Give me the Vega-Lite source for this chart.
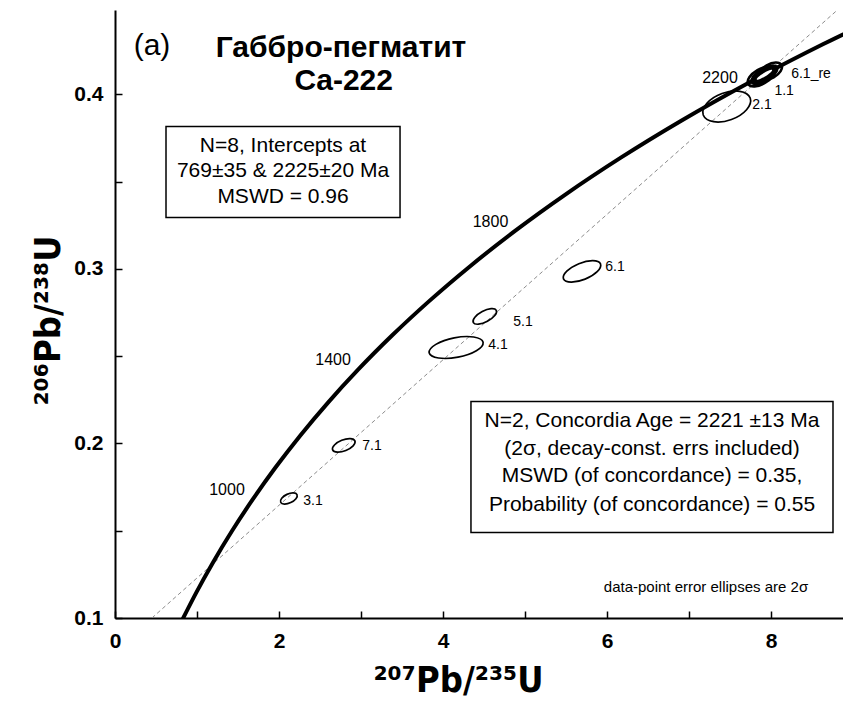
{
  "$schema": "https://vega.github.io/schema/vega-lite/v6.json",
  "width": 728,
  "height": 608,
  "autosize": {"type": "none"},
  "padding": {"left": 115, "top": 10, "right": 0, "bottom": 88},
  "background": "white",
  "config": {
    "view": {"stroke": null},
    "text": {"font": "Liberation Sans", "color": "black"}
  },
  "datasets": {
    "conc": [
      {"t": 600, "x": 0.8056, "y": 0.09754},
      {"t": 700, "x": 0.99251, "y": 0.11470},
      {"t": 800, "x": 1.19873, "y": 0.13213},
      {"t": 900, "x": 1.42629, "y": 0.14983},
      {"t": 1000, "x": 1.67741, "y": 0.16780},
      {"t": 1100, "x": 1.95452, "y": 0.18606},
      {"t": 1200, "x": 2.26030, "y": 0.20460},
      {"t": 1300, "x": 2.59775, "y": 0.22343},
      {"t": 1400, "x": 2.97009, "y": 0.24256},
      {"t": 1500, "x": 3.38099, "y": 0.26199},
      {"t": 1600, "x": 3.83441, "y": 0.28172},
      {"t": 1700, "x": 4.33477, "y": 0.30175},
      {"t": 1800, "x": 4.88689, "y": 0.32210},
      {"t": 1900, "x": 5.49618, "y": 0.34277},
      {"t": 2000, "x": 6.16852, "y": 0.36377},
      {"t": 2100, "x": 6.91045, "y": 0.38509},
      {"t": 2200, "x": 7.72919, "y": 0.40674},
      {"t": 2300, "x": 8.63265, "y": 0.42873},
      {"t": 2400, "x": 9.62952, "y": 0.45107}
    ],
    "disc": [
      {"x": 0.45, "y": 0.1},
      {"x": 8.81, "y": 0.4484}
    ],
    "ell": [
      {"spot": "3.1", "x": 2.12, "y": 0.1685},
      {"spot": "7.1", "x": 2.79, "y": 0.1989},
      {"spot": "4.1", "x": 4.16, "y": 0.2550},
      {"spot": "5.1", "x": 4.51, "y": 0.2728},
      {"spot": "6.1", "x": 5.695, "y": 0.2986},
      {"spot": "2.1", "x": 7.46, "y": 0.3931}
    ],
    "ellthick": [
      {"spot": "1.1", "x": 7.88, "y": 0.4103},
      {"spot": "6.1_re", "x": 7.99, "y": 0.4132}
    ],
    "concage": [
      {"age": 2221, "x": 7.92, "y": 0.4113}
    ],
    "ages": [
      {"label": "1000", "x": 1.366, "y": 0.1731},
      {"label": "1400", "x": 2.659, "y": 0.2476},
      {"label": "1800", "x": 4.579, "y": 0.3272},
      {"label": "2200", "x": 7.378, "y": 0.4097}
    ],
    "spotlabels": [
      {"label": "3.1", "x": 2.415, "y": 0.1673},
      {"label": "7.1", "x": 3.134, "y": 0.1983},
      {"label": "4.1", "x": 4.671, "y": 0.2567},
      {"label": "5.1", "x": 4.976, "y": 0.2699},
      {"label": "6.1", "x": 6.098, "y": 0.3009},
      {"label": "2.1", "x": 7.89, "y": 0.3937},
      {"label": "1.1", "x": 8.16, "y": 0.4017},
      {"label": "6.1_re", "x": 8.488, "y": 0.4120}
    ],
    "boxes": [
      {"x": 0.622, "x2": 3.476, "y": 0.3817, "y2": 0.3295},
      {"x": 4.341, "x2": 8.756, "y": 0.2241, "y2": 0.1490}
    ],
    "boxtext": [
      {"txt": "N=8, Intercepts at", "x": 2.049, "y": 0.3702},
      {"txt": "769±35 & 2225±20 Ma", "x": 2.049, "y": 0.3559},
      {"txt": "MSWD = 0.96", "x": 2.049, "y": 0.3415},
      {"txt": "N=2, Concordia Age = 2221 ±13 Ma", "x": 6.549, "y": 0.2126},
      {"txt": "(2σ, decay-const. errs included)", "x": 6.549, "y": 0.1971},
      {"txt": "MSWD (of concordance) = 0.35,", "x": 6.549, "y": 0.1811},
      {"txt": "Probability (of concordance) = 0.55", "x": 6.549, "y": 0.1650}
    ],
    "title": [
      {"txt": "Габбро-пегматит", "x": 2.756, "y": 0.4269},
      {"txt": "Ca-222", "x": 2.79, "y": 0.4075}
    ],
    "panel": [
      {"txt": "(a)", "x": 0.451, "y": 0.4275}
    ],
    "note": [
      {"txt": "data-point error ellipses are 2σ", "x": 7.207, "y": 0.1175}
    ]
  },
  "encoding": {
    "x": {
      "field": "x",
      "type": "quantitative",
      "scale": {"domain": [0, 8.878], "nice": false, "zero": false},
      "axis": {
        "values": [0, 1, 2, 3, 4, 5, 6, 7, 8],
        "format": "d",
        "labelExpr": "datum.value % 2 === 0 ? datum.label : ''",
        "grid": false,
        "domainColor": "black",
        "domainWidth": 2,
        "tickColor": "black",
        "tickWidth": 1.5,
        "tickSize": -7,
        "labelFont": "Liberation Sans",
        "labelFontSize": 21,
        "labelFontWeight": "bold",
        "labelColor": "black",
        "labelPadding": 19,
        "labelFlush": false,
        "labelOverlap": false,
        "labelBound": false,
        "title": "²⁰⁷Pb/²³⁵U",
        "titleFont": "DejaVu Sans Condensed, DejaVu Sans",
        "titleFontSize": 36,
        "titleFontWeight": "bold",
        "titleColor": "black",
        "titleX": 343,
        "titleY": 62,
        "titleBaseline": "middle",
        "titleAlign": "center"
      }
    },
    "y": {
      "field": "y",
      "type": "quantitative",
      "scale": {"domain": [0.1, 0.4484], "nice": false, "zero": false},
      "axis": {
        "values": [0.1, 0.15, 0.2, 0.25, 0.3, 0.35, 0.4],
        "labelExpr": "abs(datum.value*10 - round(datum.value*10)) < 0.001 ? format(datum.value, '.1f') : ''",
        "grid": false,
        "domainColor": "black",
        "domainWidth": 2,
        "tickColor": "black",
        "tickWidth": 1.5,
        "tickSize": -7,
        "labelFont": "Liberation Sans",
        "labelFontSize": 21,
        "labelFontWeight": "bold",
        "labelColor": "black",
        "labelPadding": 19,
        "labelFlush": false,
        "labelOverlap": false,
        "labelBound": false,
        "title": "²⁰⁶Pb/²³⁸U",
        "titleFont": "DejaVu Sans Condensed, DejaVu Sans",
        "titleFontSize": 36,
        "titleFontWeight": "bold",
        "titleColor": "black",
        "titleAngle": 270,
        "titleX": -67,
        "titleY": 310,
        "titleBaseline": "middle",
        "titleAlign": "center"
      }
    }
  },
  "layer": [
    {
      "data": {"name": "disc"},
      "mark": {"type": "line", "color": "#8c8c8c", "strokeWidth": 1, "strokeDash": [4, 3], "clip": true}
    },
    {
      "data": {"name": "conc"},
      "mark": {"type": "line", "color": "black", "strokeWidth": 4, "interpolate": "monotone", "clip": true},
      "encoding": {"order": {"field": "t", "type": "quantitative"}}
    },
    {
      "data": {"name": "boxes"},
      "mark": {"type": "rect", "fill": "white", "stroke": "black", "strokeWidth": 1.5},
      "encoding": {
        "x2": {"field": "x2"},
        "y2": {"field": "y2"}
      }
    },
    {
      "data": {"name": "ell"},
      "mark": {"type": "point", "filled": false, "stroke": "black", "strokeWidth": 1.7, "size": 4, "opacity": 1},
      "encoding": {
        "shape": {
          "field": "spot",
          "type": "nominal",
          "legend": null,
          "scale": {
            "domain": ["3.1", "7.1", "4.1", "5.1", "6.1", "2.1", "1.1", "6.1_re"],
            "range": [
              "M -8.16 3.8 A 9 4.5 -25 0 1 8.16 -3.8 A 9 4.5 -25 0 1 -8.16 3.8 Z",
              "M -11.13 4.5 A 12 5.5 -22 0 1 11.13 -4.5 A 12 5.5 -22 0 1 -11.13 4.5 Z",
              "M -26.99 5.25 A 27.5 10 -11 0 1 26.99 -5.25 A 27.5 10 -11 0 1 -26.99 5.25 Z",
              "M -11.48 6.1 A 13 5.5 -28 0 1 11.48 -6.1 A 13 5.5 -28 0 1 -11.48 6.1 Z",
              "M -18.54 7.49 A 20 8.5 -22 0 1 18.54 -7.49 A 20 8.5 -22 0 1 -18.54 7.49 Z",
              "M -23.49 8.55 A 25 14 -20 0 1 23.49 -8.55 A 25 14 -20 0 1 -23.49 8.55 Z",
              "M -12.99 7.5 A 15 7.5 -30 0 1 12.99 -7.5 A 15 7.5 -30 0 1 -12.99 7.5 Z",
              "M -11.26 6.5 A 13 7 -30 0 1 11.26 -6.5 A 13 7 -30 0 1 -11.26 6.5 Z"
            ]
          }
        }
      }
    },
    {
      "data": {"name": "ellthick"},
      "mark": {"type": "point", "filled": false, "stroke": "black", "strokeWidth": 2.6, "size": 4, "opacity": 1},
      "encoding": {
        "shape": {
          "field": "spot",
          "type": "nominal",
          "legend": null,
          "scale": {
            "domain": ["3.1", "7.1", "4.1", "5.1", "6.1", "2.1", "1.1", "6.1_re"],
            "range": [
              "M -8.16 3.8 A 9 4.5 -25 0 1 8.16 -3.8 A 9 4.5 -25 0 1 -8.16 3.8 Z",
              "M -11.13 4.5 A 12 5.5 -22 0 1 11.13 -4.5 A 12 5.5 -22 0 1 -11.13 4.5 Z",
              "M -26.99 5.25 A 27.5 10 -11 0 1 26.99 -5.25 A 27.5 10 -11 0 1 -26.99 5.25 Z",
              "M -11.48 6.1 A 13 5.5 -28 0 1 11.48 -6.1 A 13 5.5 -28 0 1 -11.48 6.1 Z",
              "M -18.54 7.49 A 20 8.5 -22 0 1 18.54 -7.49 A 20 8.5 -22 0 1 -18.54 7.49 Z",
              "M -23.49 8.55 A 25 14 -20 0 1 23.49 -8.55 A 25 14 -20 0 1 -23.49 8.55 Z",
              "M -12.99 7.5 A 15 7.5 -30 0 1 12.99 -7.5 A 15 7.5 -30 0 1 -12.99 7.5 Z",
              "M -11.26 6.5 A 13 7 -30 0 1 11.26 -6.5 A 13 7 -30 0 1 -11.26 6.5 Z"
            ]
          }
        }
      }
    },
    {
      "data": {"name": "concage"},
      "mark": {"type": "point", "filled": true, "color": "black", "opacity": 1, "size": 4,
               "shape": "M -13.57 8.48 A 16 7.5 -32 0 1 13.57 -8.48 A 16 7.5 -32 0 1 -13.57 8.48 Z"}
    },
    {
      "data": {"name": "concage"},
      "mark": {"type": "point", "filled": true, "color": "white", "opacity": 1, "size": 4,
               "shape": "M -7.63 4.77 A 9 1.8 -32 0 1 7.63 -4.77 A 9 1.8 -32 0 1 -7.63 4.77 Z"}
    },
    {
      "data": {"name": "ages"},
      "mark": {"type": "text", "fontSize": 16, "align": "center", "baseline": "middle", "font": "Liberation Sans"},
      "encoding": {"text": {"field": "label"}}
    },
    {
      "data": {"name": "spotlabels"},
      "mark": {"type": "text", "fontSize": 14, "align": "center", "baseline": "middle", "font": "Liberation Sans"},
      "encoding": {"text": {"field": "label"}}
    },
    {
      "data": {"name": "boxtext"},
      "mark": {"type": "text", "fontSize": 21, "align": "center", "baseline": "middle", "font": "Liberation Sans"},
      "encoding": {"text": {"field": "txt"}}
    },
    {
      "data": {"name": "title"},
      "mark": {"type": "text", "fontSize": 30, "fontWeight": "bold", "align": "center", "baseline": "middle", "font": "Liberation Sans"},
      "encoding": {"text": {"field": "txt"}}
    },
    {
      "data": {"name": "panel"},
      "mark": {"type": "text", "fontSize": 30, "align": "center", "baseline": "middle", "font": "Liberation Sans"},
      "encoding": {"text": {"field": "txt"}}
    },
    {
      "data": {"name": "note"},
      "mark": {"type": "text", "fontSize": 15, "align": "center", "baseline": "middle", "font": "Liberation Sans"},
      "encoding": {"text": {"field": "txt"}}
    },
    {
      "data": {"values": [{}]},
      "mark": {"type": "rule", "color": "black", "strokeWidth": 2},
      "encoding": {
        "x": {"datum": 0, "type": "quantitative"},
        "x2": {"datum": 8.878},
        "y": {"datum": 0.4484, "type": "quantitative"}
      }
    }
  ]
}
